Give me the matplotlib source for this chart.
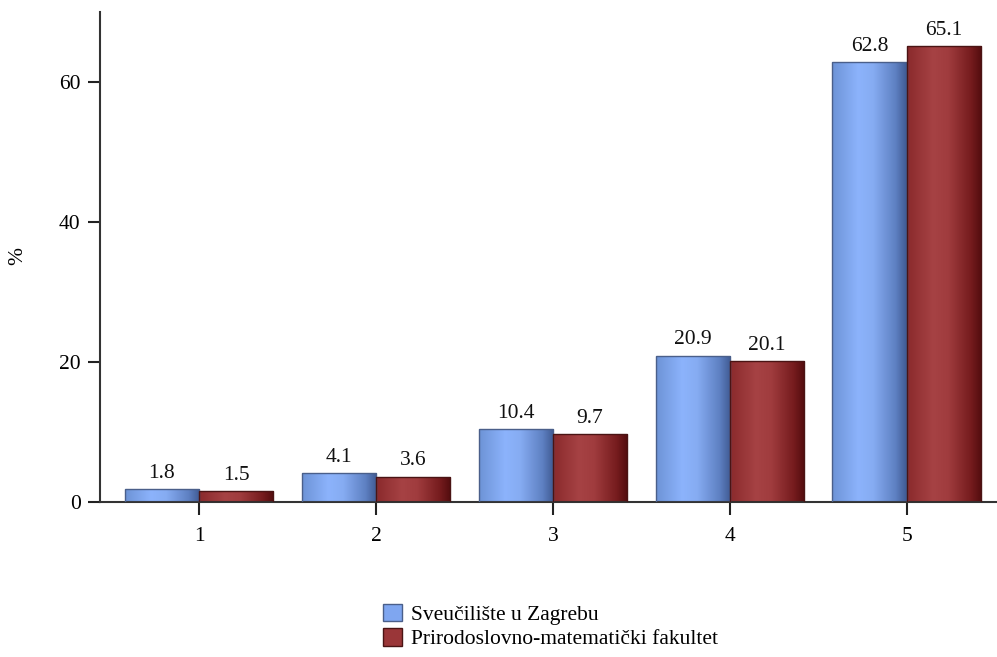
import numpy as np
import matplotlib.pyplot as plt
from matplotlib.colors import LinearSegmentedColormap
from matplotlib.patches import Rectangle

plt.rcParams['font.family'] = ['Liberation Serif', 'DejaVu Serif']

# Data
categories = ['1', '2', '3', '4', '5']
series_names = ['Sveučilište u Zagrebu', 'Prirodoslovno-matematički fakultet']
sveuciliste = [1.8, 4.1, 10.4, 20.9, 62.8]
pmf = [1.5, 3.6, 9.7, 20.1, 65.1]

# cylinder-like shading for each series
blue_cmap = LinearSegmentedColormap.from_list(
    'blue', [(0, '#6d93d6'), (0.35, '#8cb3fc'), (0.55, '#86acf2'), (0.85, '#5e80c2'), (1, '#3f5a92')])
red_cmap = LinearSegmentedColormap.from_list(
    'red', [(0, '#8a2a2c'), (0.35, '#a64244'), (0.55, '#a03c3e'), (0.85, '#761c1e'), (1, '#520c0e')])
edge_colors = ['#4a5f8a', '#4a1414']
cmaps = [blue_cmap, red_cmap]

fig = plt.figure(figsize=(9.97, 6.57), dpi=100)
ax = fig.add_axes([0.1003, 0.236, 0.8997, 0.746])

x = np.arange(1, len(categories) + 1)
width = 0.42
grad = np.linspace(0, 1, 256).reshape(1, -1)

for i, vals in enumerate([sveuciliste, pmf]):
    offset = -width if i == 0 else 0
    for xi, v in zip(x, vals):
        left = xi + offset
        im = ax.imshow(grad, cmap=cmaps[i], aspect='auto',
                       extent=(left, left + width, 0, v), zorder=2)
        rect = Rectangle((left, 0), width, v, facecolor='none',
                         edgecolor=edge_colors[i], linewidth=1.0, zorder=3)
        ax.add_patch(rect)
        im.set_clip_path(rect)
        ax.text(left + width / 2, v + 0.9, f'{v:.1f}', ha='center', va='bottom',
                fontsize=15.5, color='#111111')

ax.set_xlim(0.44, 5.51)
ax.set_ylim(0, 70)
ax.set_xticks(x)
ax.set_xticklabels(categories)
ax.set_yticks([0, 20, 40, 60])
ax.tick_params(axis='both', labelsize=15.5, length=9, width=1.5, color='#222222', direction='out')
ax.tick_params(axis='x', pad=9)
ax.tick_params(axis='y', pad=5)
for s in ['top', 'right']:
    ax.spines[s].set_visible(False)
for s in ['left', 'bottom']:
    ax.spines[s].set_linewidth(1.5)
    ax.spines[s].set_color('#333333')
fig.text(0.018, 0.61, '%', rotation=90, ha='center', va='center', fontsize=15.5)

# legend
handles = [Rectangle((0, 0), 1, 1, facecolor=c, edgecolor=e)
           for c, e in zip(['#7fa6f0', '#9a3638'], edge_colors)]
fig.legend(handles, series_names, loc='lower left', bbox_to_anchor=(0.365, -0.018),
           frameon=False, fontsize=15.5, handlelength=0.85, handleheight=0.85,
           handletextpad=0.45, labelspacing=0.15)

fig.savefig('out.png', dpi=100)
